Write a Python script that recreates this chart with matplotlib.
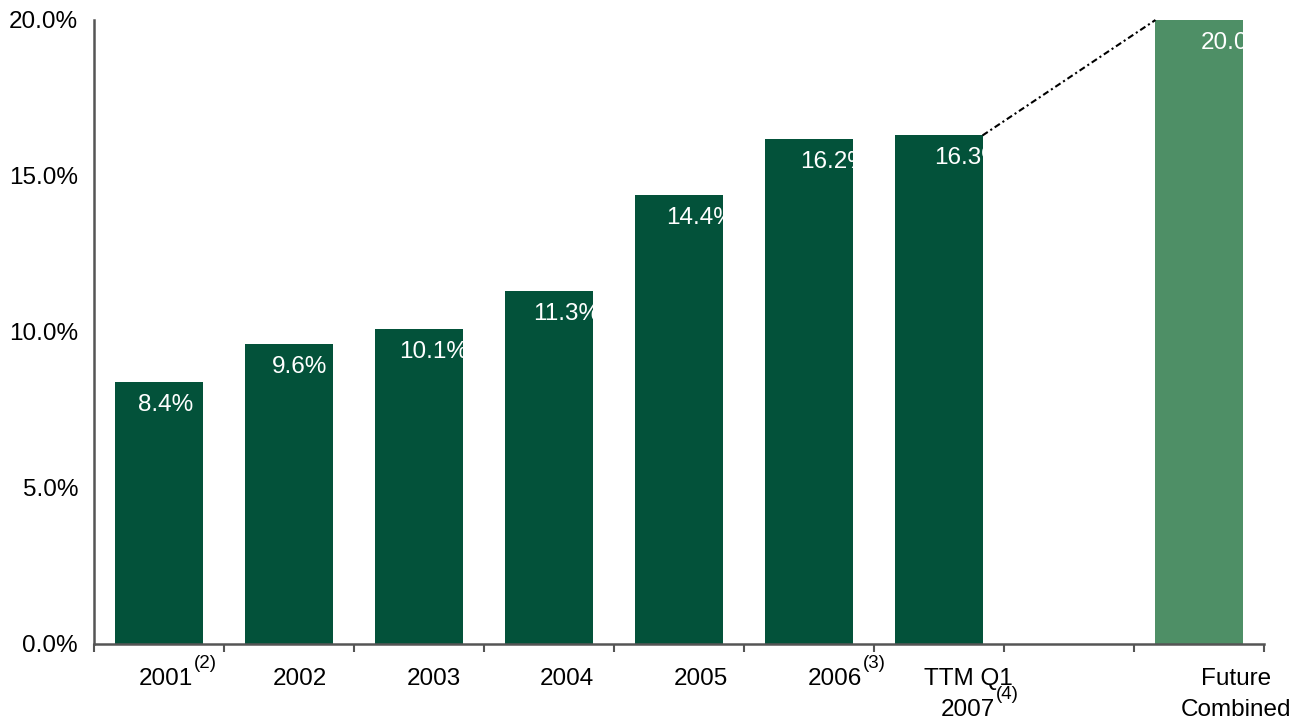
import numpy as np
import matplotlib
matplotlib.use("Agg")
import matplotlib.pyplot as plt
from matplotlib.ticker import FuncFormatter

plt.rcParams['font.family'] = ['Liberation Sans', 'DejaVu Sans']

# category labels (first line, second line) and footnote marks
line1 = ["2001", "2002", "2003", "2004", "2005", "2006", "TTM Q1", "", "Future"]
line2 = ["", "", "", "", "", "", "2007", "", "Combined"]
notes = ["(2)", "", "", "", "", "(3)", "", "", ""]
notes2 = ["", "", "", "", "", "", "(4)", "", ""]
# margin in percent; slot 7 is left empty
margin = [8.4, 9.6, 10.1, 11.3, 14.4, 16.2, 16.3, np.nan, 20.0]
bar_colors = ["#03523A"] * 8 + ["#4E8F66"]

dark = "#555555"
x = np.arange(len(margin))
width = 0.67
# labels sit slightly right of the bar centres, spreading out to the right
label_x = 0.054 + 1.0285 * x

fig = plt.figure(figsize=(13.08, 7.24), dpi=100)
ax = fig.add_axes([94 / 1308, 1 - 644 / 724, (1264 - 94) / 1308, (644 - 20) / 724])

bars = ax.bar(x, margin, width=width, color=bar_colors)

# value labels in white, clipped by their bar
for i, (b, v) in enumerate(zip(bars, margin)):
    if np.isnan(v):
        continue
    t = ax.annotate(f"{v:.1f}%", xy=(label_x[i], v), xytext=(0, -23),
                    textcoords="offset pixels", ha="center", va="center",
                    color="white", fontsize=17.5)
    t.set_clip_on(True)
    t.set_clip_path(b)

# dotted connector between last actual and future bar
ax.plot([x[6] + width / 2, x[8] - width / 2], [margin[6], margin[8]],
        color="black", lw=1.5, ls=(0, (3, 1.5, 1, 1.5)), clip_on=False)

ax.set_xlim(-0.5, 8.5)
ax.set_ylim(0, 20)
ax.set_yticks([0, 5, 10, 15, 20])
ax.yaxis.set_major_formatter(FuncFormatter(lambda v, p: f"{v:.1f}%"))
ax.tick_params(axis="y", length=0, pad=11.5, labelsize=17.5)

ax.set_xticks([])
ax.set_xticks(np.arange(-0.5, 9, 1), minor=True)
ax.tick_params(axis="x", which="minor", length=5.8, width=1.5, color=dark,
               direction="out")

for s in ["top", "right"]:
    ax.spines[s].set_visible(False)
for s in ["left", "bottom"]:
    ax.spines[s].set_color(dark)
    ax.spines[s].set_linewidth(1.8)

# category labels, one text per line, with footnote superscripts
for i in range(len(line1)):
    t1 = ax.annotate(line1[i], xy=(label_x[i], 0), xycoords=("data", "axes fraction"),
                     xytext=(0, -35), textcoords="offset pixels",
                     ha="center", va="center", fontsize=17.5)
    if notes[i]:
        ax.annotate(notes[i], xy=(1, 1), xycoords=t1, xytext=(1, -4),
                    textcoords="offset pixels", ha="left", va="bottom", fontsize=13.5)
    if line2[i]:
        t2 = ax.annotate(line2[i], xy=(label_x[i], 0), xycoords=("data", "axes fraction"),
                         xytext=(0, -66), textcoords="offset pixels",
                         ha="center", va="center", fontsize=17.5)
        if notes2[i]:
            ax.annotate(notes2[i], xy=(1, 1), xycoords=t2, xytext=(1, -4),
                        textcoords="offset pixels", ha="left", va="bottom", fontsize=13.5)

fig.savefig("out.png", dpi=100)
